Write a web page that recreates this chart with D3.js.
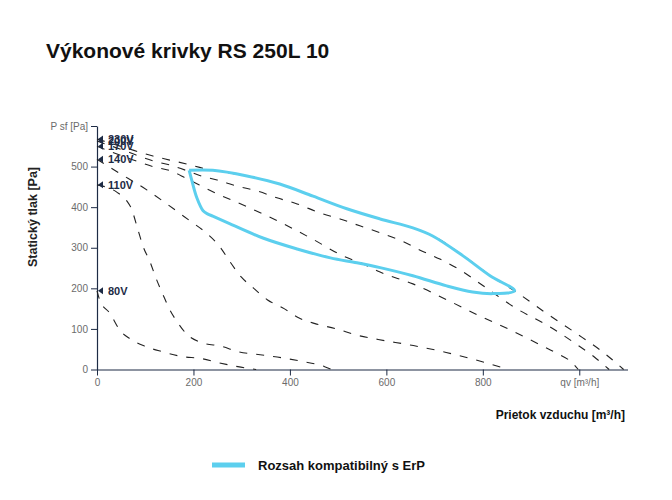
<!DOCTYPE html>
<html>
<head>
<meta charset="utf-8">
<script src="https://cdn.jsdelivr.net/npm/d3@7"></script>
<style>
  body { margin: 0; background: #fff; }
  text { font-family: "Liberation Sans", Arial, sans-serif; }
</style>
</head>
<body>
<svg id="chart" width="672" height="500"></svg>
<script>
// fan curves, Q in m3/h, P in Pa
const labels = ['230V', '200V', '170V', '140V', '110V', '80V'];

const q230 = [0, 60, 116, 151, 187, 220, 265, 311, 379, 448, 518, 587, 655, 700, 760, 815, 868, 930, 990, 1050, 1092];
const p230 = [568, 546, 526, 516, 506, 496, 486, 477, 457, 427, 396, 371, 349, 327, 280, 232, 192, 140, 92, 42, 0];

const q200 = [0, 60, 116, 151, 186, 213, 249, 290, 332, 373, 415, 462, 504, 545, 587, 630, 670, 711, 752, 800, 870, 935, 997, 1030, 1062];
const p200 = [563, 538, 514, 504, 490, 478, 467, 452, 440, 423, 408, 386, 371, 354, 337, 318, 294, 272, 246, 207, 150, 108, 60, 32, 0];

const q170 = [0, 83, 116, 151, 185, 240, 317, 383, 446, 510, 552, 587, 655, 725, 788, 856, 922, 955, 985, 998];
const p170 = [550, 513, 500, 490, 471, 438, 398, 361, 322, 280, 260, 240, 211, 172, 135, 98, 59, 39, 17, 0];

const q140 = [0, 39, 104, 139, 193, 226, 255, 276, 299, 324, 353, 388, 417, 452, 494, 541, 583, 656, 724, 805, 853];
const p140 = [518, 489, 442, 413, 366, 337, 302, 265, 228, 201, 172, 150, 128, 113, 101, 84, 74, 59, 42, 17, 0];

const q110 = [0, 41, 62, 70, 85, 95, 110, 122, 137, 151, 166, 187, 218, 259, 292, 334, 383, 425, 472, 486];
const p110 = [455, 437, 415, 400, 344, 305, 265, 226, 184, 147, 118, 86, 66, 57, 44, 37, 29, 20, 7, 0];

const q80 = [0, 6, 27, 48, 68, 100, 135, 176, 216, 251, 292, 330];
const p80 = [194, 170, 138, 96, 76, 57, 44, 32, 27, 17, 7, 0];

// ErP compatible range outline
const qErp = [191, 240, 311, 379, 448, 518, 587, 655, 696, 759, 815, 866, 821, 779, 725, 655, 587, 539, 484, 415, 344, 276, 240, 230, 220, 207, 197, 191];
const pErp = [491, 491, 477, 457, 427, 396, 371, 349, 329, 280, 231, 194, 187, 191, 206, 231, 251, 263, 275, 297, 324, 359, 378, 383, 391, 423, 464, 491];

const yTicks = [0, 100, 200, 300, 400, 500, 600];
const xTicks = [0, 200, 400, 600, 800, 1000];

const series = [
    [q230, p230], [q200, p200], [q170, p170],
    [q140, p140], [q110, p110], [q80, p80]
];

const AXIS_COLOR = '#1d2b45';
const ERP_COLOR = '#5ccfee';

const svg = d3.select('#chart');
const x = d3.scaleLinear().domain([0, 1100]).range([97, 627.5]);
const y = d3.scaleLinear().domain([0, 600]).range([369.5, 126]);

// title
svg.append('text')
    .attr('x', 46).attr('y', 58)
    .attr('font-size', 21).attr('font-weight', 'bold').attr('fill', '#111')
    .text('Výkonové krivky RS 250L 10');

// axes
const yAxis = svg.append('g')
    .attr('transform', `translate(${x(0)},0)`)
    .call(d3.axisLeft(y).tickValues(yTicks).tickSize(6).tickSizeOuter(0)
        .tickFormat(d => d === 600 ? 'P sf [Pa]' : d));
const xAxis = svg.append('g')
    .attr('transform', `translate(0,${y(0)})`)
    .call(d3.axisBottom(x).tickValues(xTicks).tickSize(6).tickSizeOuter(0)
        .tickFormat(d => d === 1000 ? 'qv [m³/h]' : d));
[yAxis, xAxis].forEach(g => {
    g.select('.domain').attr('stroke', AXIS_COLOR).attr('stroke-width', 1.2);
    g.selectAll('.tick line').attr('stroke', AXIS_COLOR);
    g.selectAll('.tick text')
        .attr('fill', '#6b6b6b').attr('font-size', 10)
        .attr('font-family', '"Liberation Sans", Arial, sans-serif');
});

// axis titles
svg.append('text')
    .attr('transform', 'translate(37,217) rotate(-90)')
    .attr('text-anchor', 'middle')
    .attr('font-size', 12.5).attr('font-weight', 'bold').attr('fill', '#222')
    .text('Statický tlak [Pa]');
svg.append('text')
    .attr('x', 625).attr('y', 419)
    .attr('text-anchor', 'end')
    .attr('font-size', 12).attr('font-weight', 'bold').attr('fill', '#111')
    .text('Prietok vzduchu [m³/h]');

// fan curves
const curveLine = d3.line()
    .x(d => x(d[0]))
    .y(d => y(d[1]))
    .curve(d3.curveMonotoneX);

series.forEach(([qs, ps]) => {
    svg.append('path')
        .attr('d', curveLine(qs.map((q, i) => [q, ps[i]])))
        .attr('fill', 'none')
        .attr('stroke', '#222')
        .attr('stroke-width', 1.1)
        .attr('stroke-dasharray', '8,9');
});

// ErP range outline
const erpLine = d3.line()
    .x(d => x(d[0]))
    .y(d => y(d[1]))
    .curve(d3.curveCatmullRom.alpha(0.5));
svg.append('path')
    .attr('d', erpLine(qErp.map((q, i) => [q, pErp[i]])))
    .attr('fill', 'none')
    .attr('stroke', ERP_COLOR)
    .attr('stroke-width', 3)
    .attr('stroke-linejoin', 'round');

// voltage markers at the start of each curve
series.forEach(([qs, ps], i) => {
    const cx = x(qs[0]);
    const cy = y(ps[0]);
    svg.append('path')
        .attr('d', `M${cx + 1},${cy} L${cx + 6},${cy - 3.5} L${cx + 6},${cy + 3.5} Z`)
        .attr('fill', AXIS_COLOR);
    svg.append('text')
        .attr('x', cx + 11).attr('y', cy)
        .attr('dy', '0.36em')
        .attr('font-size', 11).attr('font-weight', 'bold')
        .attr('fill', AXIS_COLOR)
        .text(labels[i]);
});

// legend
svg.append('line')
    .attr('x1', 212).attr('x2', 245)
    .attr('y1', 465).attr('y2', 465)
    .attr('stroke', ERP_COLOR).attr('stroke-width', 5);
svg.append('text')
    .attr('x', 258).attr('y', 469.5)
    .attr('font-size', 13).attr('font-weight', 'bold').attr('fill', '#111')
    .text('Rozsah kompatibilný s ErP');
</script>
</body>
</html>
